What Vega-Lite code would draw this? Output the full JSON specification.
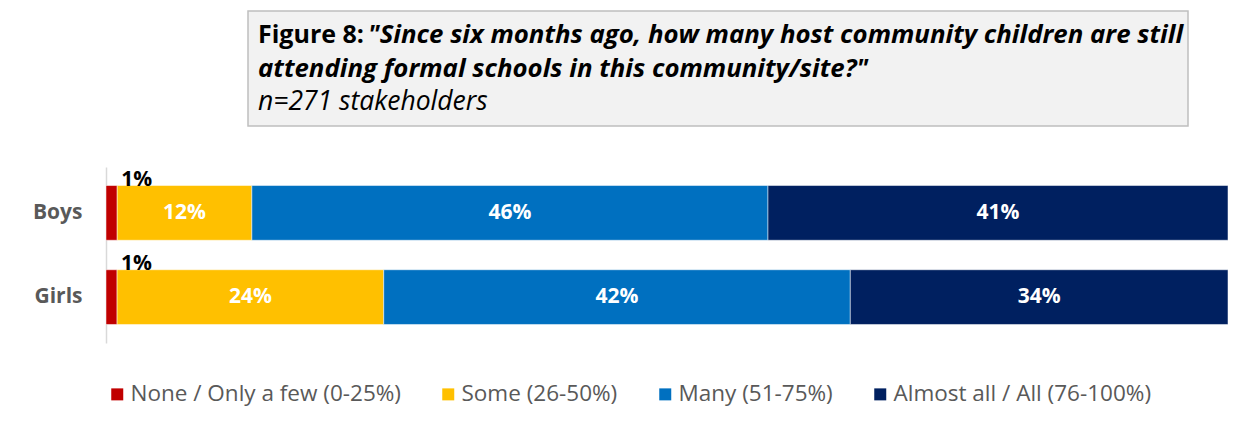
{
  "$schema": "https://vega.github.io/schema/vega-lite/v6.json",
  "padding": {"left": 32, "top": 10, "right": 0, "bottom": 0},
  "background": "white",
  "config": {
    "font": "Open Sans",
    "view": {"stroke": null},
    "concat": {"spacing": 40}
  },
  "datasets": {
    "header": [
      {"line": 1, "part": "fig", "text": "Figure 8:"},
      {"line": 1, "part": "quote", "text": "\"Since six months ago, how many host community children are still"},
      {"line": 2, "part": "quote", "text": "attending formal schools in this community/site?\""},
      {"line": 3, "part": "n", "text": "n=271 stakeholders"}
    ],
    "shares": [
      {"group": "Boys", "answer": "None / Only a few (0-25%)", "rank": 1, "pct": 0.01},
      {"group": "Boys", "answer": "Some (26-50%)", "rank": 2, "pct": 0.12},
      {"group": "Boys", "answer": "Many (51-75%)", "rank": 3, "pct": 0.46},
      {"group": "Boys", "answer": "Almost all / All (76-100%)", "rank": 4, "pct": 0.41},
      {"group": "Girls", "answer": "None / Only a few (0-25%)", "rank": 1, "pct": 0.01},
      {"group": "Girls", "answer": "Some (26-50%)", "rank": 2, "pct": 0.24},
      {"group": "Girls", "answer": "Many (51-75%)", "rank": 3, "pct": 0.42},
      {"group": "Girls", "answer": "Almost all / All (76-100%)", "rank": 4, "pct": 0.34}
    ]
  },
  "vconcat": [
    {
      "spacing": 0,
      "hconcat": [
        {
          "width": 141,
          "height": 115,
          "data": {"values": []},
          "mark": "point"
        },
        {
          "width": 940,
          "height": 115,
          "view": {"fill": "#f2f2f2", "stroke": "#bfbfbf", "strokeWidth": 1.5},
          "data": {"name": "header"},
          "encoding": {
            "x": {"datum": 0, "type": "quantitative", "scale": {"domain": [0, 1]}, "axis": null},
            "y": {"field": "line", "type": "ordinal", "scale": {"type": "point", "padding": 0.7}, "axis": null},
            "text": {"field": "text"}
          },
          "layer": [
            {
              "transform": [{"filter": "datum.part === 'fig'"}],
              "mark": {"type": "text", "align": "left", "dx": 10, "fontSize": 25, "fontWeight": "bold", "color": "#000000"}
            },
            {
              "transform": [{"filter": "datum.part === 'quote' && datum.line === 1"}],
              "mark": {"type": "text", "align": "left", "dx": 120, "fontSize": 25.8, "fontWeight": "bold", "fontStyle": "italic", "color": "#000000"}
            },
            {
              "transform": [{"filter": "datum.part === 'quote' && datum.line === 2"}],
              "mark": {"type": "text", "align": "left", "dx": 10, "fontSize": 25.8, "fontWeight": "bold", "fontStyle": "italic", "color": "#000000"}
            },
            {
              "transform": [{"filter": "datum.part === 'n'"}],
              "mark": {"type": "text", "align": "left", "dx": 10, "fontSize": 26.5, "fontStyle": "italic", "color": "#000000"}
            }
          ]
        }
      ]
    },
    {
      "width": 1122,
      "height": 176,
      "data": {"name": "shares"},
      "encoding": {
        "y": {
          "field": "group",
          "type": "nominal",
          "sort": ["Boys", "Girls"],
          "scale": {"paddingInner": 0.35, "paddingOuter": 0.22},
          "axis": {
            "title": null,
            "ticks": false,
            "domainColor": "#d9d9d9",
            "domainWidth": 1.5,
            "labelFontSize": 21,
            "labelFontWeight": "bold",
            "labelColor": "#595959",
            "labelPadding": 24
          }
        },
        "x": {"field": "pct", "type": "quantitative", "stack": "normalize", "axis": null},
        "order": {"field": "rank"},
        "detail": {"field": "answer"}
      },
      "layer": [
        {
          "mark": {"type": "bar", "stroke": "#ffffff", "strokeWidth": 0.5},
          "encoding": {
            "color": {
              "field": "answer",
              "type": "nominal",
              "scale": {
                "domain": ["None / Only a few (0-25%)", "Some (26-50%)", "Many (51-75%)", "Almost all / All (76-100%)"],
                "range": ["#c00000", "#ffc000", "#0070c0", "#002060"]
              },
              "legend": {
                "title": null,
                "orient": "bottom",
                "direction": "horizontal",
                "offset": 40,
                "padding": 0,
                "symbolType": "square",
                "symbolSize": 144,
                "symbolStrokeWidth": 0,
                "labelFontSize": 22.5,
                "labelColor": "#595959",
                "labelOffset": 2,
                "labelLimit": 600,
                "columnPadding": 36
              }
            }
          }
        },
        {
          "mark": {"type": "text", "fontSize": 21, "fontWeight": "bold", "color": "#ffffff"},
          "encoding": {
            "x": {"field": "pct", "type": "quantitative", "stack": "normalize", "bandPosition": 0.5},
            "text": {"condition": {"test": "datum.pct >= 0.05", "field": "pct", "type": "quantitative", "format": ".0%"}, "value": ""}
          }
        },
        {
          "mark": {"type": "text", "fontSize": 21, "fontWeight": "bold", "color": "#000000", "align": "left", "baseline": "alphabetic", "dx": 4, "dy": 0},
          "encoding": {
            "y": {"field": "group", "type": "nominal", "sort": ["Boys", "Girls"], "bandPosition": 0},
            "text": {"condition": {"test": "datum.pct < 0.05", "field": "pct", "type": "quantitative", "format": ".0%"}, "value": ""}
          }
        }
      ]
    }
  ]
}
